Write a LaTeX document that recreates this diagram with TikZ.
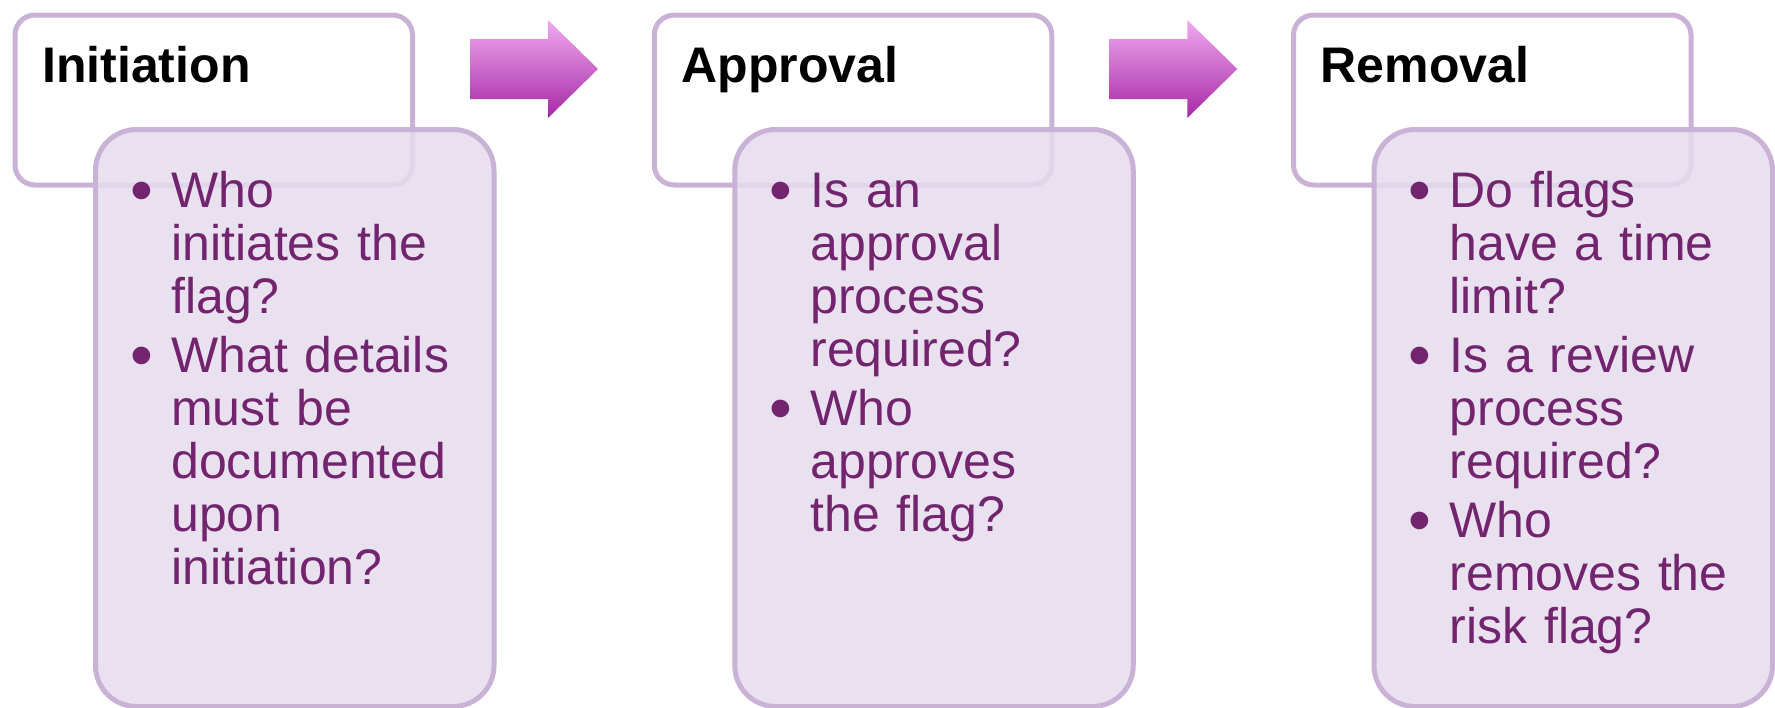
\documentclass[tikz,border=0pt]{standalone}
\usepackage{graphicx}
\usepackage{fontspec}
\setmainfont{Liberation Sans}[WordSpace=0.85]
\definecolor{bordc}{RGB}{201,178,214}
\definecolor{bodyfill}{RGB}{230,220,237}
\definecolor{txtc}{RGB}{114,36,110}
\definecolor{arrtop}{RGB}{240,170,240}
\definecolor{arrbot}{RGB}{165,40,165}
\newcommand{\bul}{\leavevmode\llap{\raisebox{-5pt}{\scalebox{1.3}{\textbullet}}\hspace{18pt}}}
\newcommand{\nb}{\par\vspace{6pt}\bul}
\tikzset{
  topbox/.style={draw=bordc, line width=5pt, fill=white, rounded corners=20pt,
    anchor=north west, inner sep=0pt, minimum width=397.5pt, minimum height=170pt},
  botbox/.style={draw=bordc, line width=5pt, fill=bodyfill, fill opacity=0.85,
    rounded corners=41pt, anchor=north west, inner sep=0pt,
    minimum width=398.5pt, minimum height=577pt},
  titletext/.style={anchor=base west, inner sep=0pt, text=black,
    font=\bfseries\fontsize{50pt}{53pt}\selectfont},
  bodytext/.style={anchor=base west, inner sep=0pt, text=txtc, text width=420pt,
    align=left, font=\fontsize{50pt}{53pt}\selectfont},
  arrowshade/.style={top color=arrtop, bottom color=arrbot, draw=none}
}
\begin{document}
\begin{tikzpicture}[x=1pt,y=-1pt]
\useasboundingbox (0,0) rectangle (1775,707);
% column 1
\node[topbox] (top1) at (12.5,12.5) {};
\node[botbox] (bot1) at (93,127) {};
\node[titletext] (title1) at (42,82) {Initiation};
\node[bodytext] (text1) at (171,207) {\bul Who\\initiates the\\flag?\nb What details\\must be\\documented\\upon\\initiation?};
\shade[arrowshade] (470,39) -- (548,39) -- (548,20) -- (598,69) -- (548,118) -- (548,99) -- (470,99) -- cycle;
% column 2
\begin{scope}[xshift=639.25pt]
\node[topbox] (top2) at (12.5,12.5) {};
\node[botbox] (bot2) at (93,127) {};
\node[titletext] (title2) at (42,82) {Approval};
\node[bodytext] (text2) at (171,207) {\bul Is an\\approval\\process\\required?\nb Who\\approves\\the flag?};
\shade[arrowshade] (470,39) -- (548,39) -- (548,20) -- (598,69) -- (548,118) -- (548,99) -- (470,99) -- cycle;
\end{scope}
% column 3
\begin{scope}[xshift=1278.5pt]
\node[topbox] (top3) at (12.5,12.5) {};
\node[botbox] (bot3) at (93,127) {};
\node[titletext] (title3) at (42,82) {Removal};
\node[bodytext] (text3) at (171,207) {\bul Do flags\\have a time\\limit?\nb Is a review\\process\\required?\nb Who\\removes the\\risk flag?};
\end{scope}
\end{tikzpicture}
\end{document}
